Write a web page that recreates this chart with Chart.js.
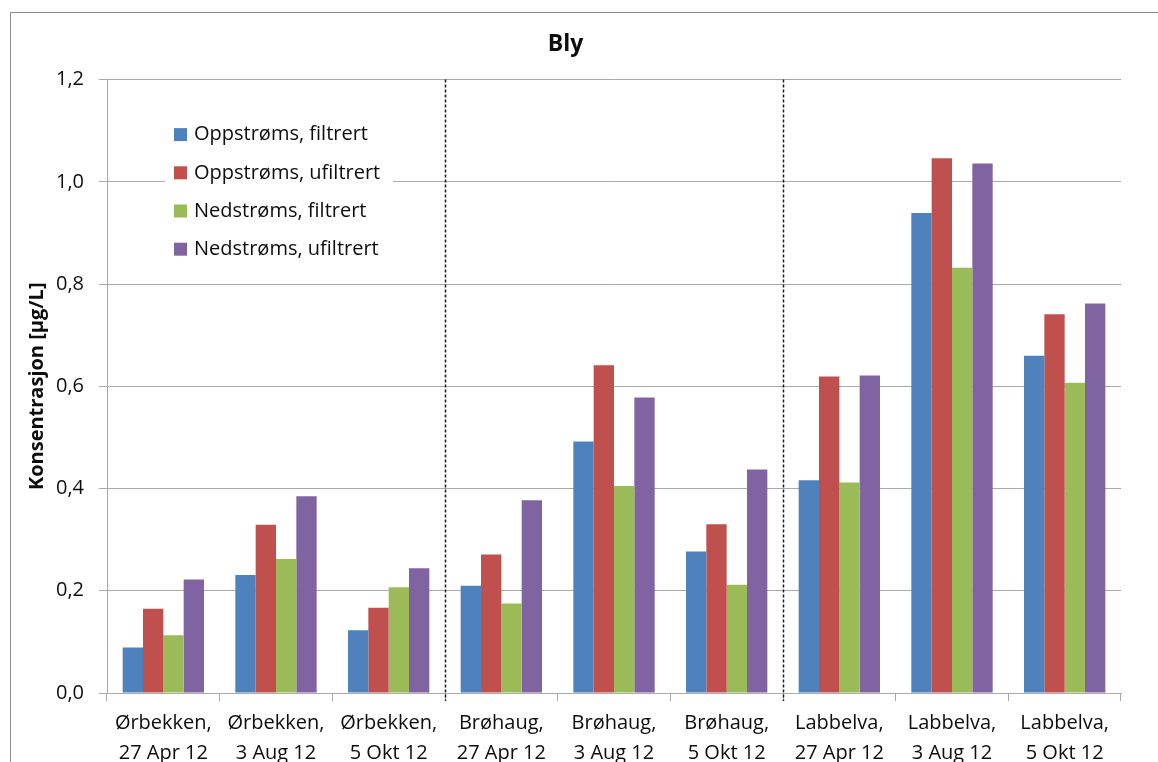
<!DOCTYPE html>
<html>
<head>
<meta charset="utf-8">
<script src="https://cdn.jsdelivr.net/npm/chart.js@4/dist/chart.umd.min.js"></script>
<style>
  html, body { margin: 0; padding: 0; background: #fff; overflow: hidden; width: 1158px; height: 762px; }
  canvas { display: block; }
</style>
</head>
<body>
<canvas id="bly" width="1158" height="800"></canvas>
<script>
// Lead (Bly) concentrations per site and sampling date
const stations = [
  ["Ørbekken,", "27 Apr 12"], ["Ørbekken,", "3 Aug 12"], ["Ørbekken,", "5 Okt 12"],
  ["Brøhaug,", "27 Apr 12"], ["Brøhaug,", "3 Aug 12"], ["Brøhaug,", "5 Okt 12"],
  ["Labbelva,", "27 Apr 12"], ["Labbelva,", "3 Aug 12"], ["Labbelva,", "5 Okt 12"],
];
const seriesNames = ["Oppstrøms, filtrert", "Oppstrøms, ufiltrert", "Nedstrøms, filtrert", "Nedstrøms, ufiltrert"];
const upstreamFiltered = [0.089, 0.231, 0.123, 0.210, 0.492, 0.277, 0.416, 0.939, 0.660];
const upstreamUnfiltered = [0.165, 0.329, 0.167, 0.271, 0.641, 0.330, 0.619, 1.046, 0.741];
const downstreamFiltered = [0.113, 0.262, 0.207, 0.175, 0.405, 0.212, 0.412, 0.832, 0.607];
const downstreamUnfiltered = [0.222, 0.385, 0.244, 0.377, 0.578, 0.437, 0.621, 1.036, 0.762];
const yTicks = [0, 0.2, 0.4, 0.6, 0.8, 1.0, 1.2];
const yTickLabels = ["0,0", "0,2", "0,4", "0,6", "0,8", "1,0", "1,2"];
const siteBreaks = [3, 6]; // dashed separators before these category indexes

const colors = ["#4f81bd", "#c0504d", "#9bbb59", "#8064a2"];
const FONT = "'Open Sans', 'Liberation Sans', sans-serif";
const gridColor = "#a9a9a9";

// frame around the whole chart
const framePlugin = {
  id: "frame",
  beforeDraw(chart) {
    const ctx = chart.ctx;
    ctx.save();
    ctx.fillStyle = "#fff";
    ctx.fillRect(0, 0, chart.width, chart.height);
    ctx.strokeStyle = "#8c8c8c";
    ctx.lineWidth = 1;
    ctx.strokeRect(10.5, 12.5, chart.width + 20, chart.height + 20);
    ctx.restore();
  },
};

// dashed vertical lines between the three sites
const separatorPlugin = {
  id: "separators",
  afterDatasetsDraw(chart) {
    const { ctx, chartArea } = chart;
    const x = chart.scales.x;
    ctx.save();
    ctx.strokeStyle = "#1a1a1a";
    ctx.lineWidth = 1.5;
    ctx.setLineDash([3, 2]);
    siteBreaks.forEach((i) => {
      const px = Math.round((x.getPixelForValue(i - 1) + x.getPixelForValue(i)) / 2) + 0.5;
      ctx.beginPath();
      ctx.moveTo(px, chartArea.top);
      ctx.lineTo(px, chartArea.bottom + 8);
      ctx.stroke();
    });
    ctx.restore();
  },
};

// legend box sitting inside the plot, over the gridlines
const insideLegendPlugin = {
  id: "insideLegend",
  beforeDatasetsDraw(chart) {
    const { ctx, chartArea } = chart;
    const left = chartArea.left + 58;
    const top = chartArea.top + 30;
    ctx.save();
    ctx.fillStyle = "#fff";
    ctx.fillRect(left, top, 228, 164);
    ctx.font = "20px " + FONT;
    ctx.textBaseline = "middle";
    ctx.textAlign = "left";
    chart.data.datasets.forEach((ds, i) => {
      const cy = chartArea.top + 55 + i * 38.2;
      ctx.fillStyle = ds.backgroundColor;
      ctx.fillRect(left + 9, cy - 6.5, 13, 13);
      ctx.fillStyle = "#0d0d0d";
      ctx.fillText(ds.label, left + 29, cy);
    });
    ctx.restore();
  },
};

const seriesValues = [upstreamFiltered, upstreamUnfiltered, downstreamFiltered, downstreamUnfiltered];

new Chart(document.getElementById("bly"), {
  type: "bar",
  data: {
    labels: stations,
    datasets: seriesNames.map((name, i) => ({
      label: name,
      data: seriesValues[i],
      backgroundColor: colors[i],
      borderWidth: 0,
      categoryPercentage: 0.722,
      barPercentage: 1.0,
    })),
  },
  options: {
    responsive: false,
    animation: false,
    layout: { padding: { left: 10, right: 37, top: 0, bottom: 0 } },
    plugins: {
      legend: { display: false },
      tooltip: { enabled: false },
      title: {
        display: true,
        text: "Bly",
        color: "#0d0d0d",
        font: { family: FONT, size: 23, weight: "bold" },
        padding: { top: 31, bottom: 21 },
      },
    },
    scales: {
      x: {
        grid: { offset: true, drawOnChartArea: false, color: gridColor, tickLength: 8 },
        border: { color: gridColor },
        ticks: {
          color: "#0d0d0d",
          font: { family: FONT, size: 20, lineHeight: 1.5 },
          padding: 7,
          maxRotation: 0,
          autoSkip: false,
        },
        afterFit(scale) { scale.height = 107; },
      },
      y: {
        min: 0,
        max: 1.2,
        afterBuildTicks(scale) { scale.ticks = yTicks.map((v) => ({ value: v })); },
        ticks: {
          color: "#0d0d0d",
          font: { family: FONT, size: 20 },
          padding: 15,
          callback: (v) => yTickLabels[yTicks.indexOf(v)],
        },
        grid: { color: gridColor, tickLength: 8 },
        border: { color: gridColor },
        title: {
          display: true,
          text: "Konsentrasjon [µg/L]",
          color: "#0d0d0d",
          font: { family: FONT, size: 20, weight: "bold" },
          padding: { top: 15, bottom: 0 },
        },
        afterFit(scale) { scale.width = 97; },
      },
    },
  },
  plugins: [framePlugin, separatorPlugin, insideLegendPlugin],
});
</script>
</body>
</html>
